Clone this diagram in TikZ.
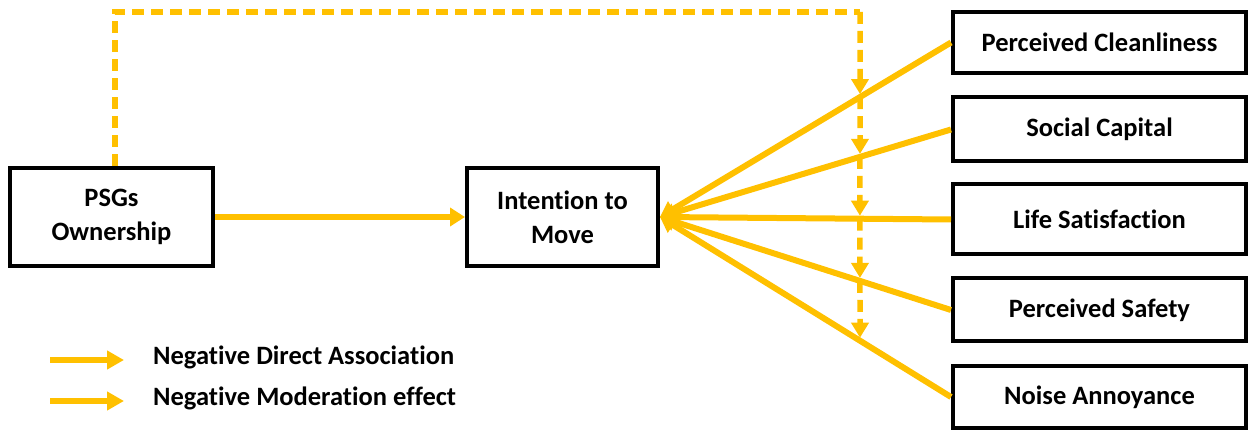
\documentclass[tikz,border=0pt]{standalone}
\usepackage{fontspec}
\setmainfont{Carlito}[Ligatures=NoCommon]
\usetikzlibrary{arrows.meta}
\definecolor{gold}{HTML}{FFC000}
\begin{document}
\begin{tikzpicture}[x=1pt,y=-1pt,
  box/.style={draw=black,line width=4pt,align=center,inner sep=0pt,
    font=\bfseries\fontsize{26.5}{34}\selectfont},
  link/.style={draw=gold,line width=6pt,-{Triangle[length=15pt,width=18pt]}},
  modline/.style={draw=gold,line width=5.5pt,dash pattern=on 12pt off 7pt},
  modtip/.style={modline,-{Triangle[length=15pt,width=17pt]}},
  legtext/.style={anchor=west,inner sep=0pt,font=\bfseries\fontsize{26.5}{30}\selectfont}]
\useasboundingbox (0,0) rectangle (1248,430);

% main constructs
\node[box,minimum width=203pt,minimum height=98pt] (psg) at (111.5,217) {PSGs\\Ownership};
\node[box,minimum width=191pt,minimum height=98pt] (im) at (562.5,217) {Intention to\\Move};

% perceived neighbourhood factors
\node[box,minimum width=293pt,minimum height=61pt] (pc) at (1099.5,42.5) {Perceived Cleanliness};
\node[box,minimum width=293pt,minimum height=64pt] (sc) at (1099.5,129.5) {Social Capital};
\node[box,minimum width=293pt,minimum height=70pt] (ls) at (1099.5,219.5) {Life Satisfaction};
\node[box,minimum width=293pt,minimum height=63pt] (ps) at (1099.5,310) {Perceived Safety};
\node[box,minimum width=293pt,minimum height=62pt] (na) at (1099.5,397) {Noise Annoyance};

% direct associations
\draw[link] (psg.east) -- (im.west);
\foreach \f in {pc,sc,ls,ps,na}
  \draw[link] (\f.west) -- (im.east);

% moderation path
\coordinate (c1) at (860,12);
\coordinate (c2) at (860,430);
\path (intersection of im.east--pc.west and c1--c2) coordinate (x1);
\path (intersection of im.east--sc.west and c1--c2) coordinate (x2);
\path (intersection of im.east--ls.west and c1--c2) coordinate (x3);
\path (intersection of im.east--ps.west and c1--c2) coordinate (x4);
\path (intersection of im.east--na.west and c1--c2) coordinate (x5);
\draw[modline] ([xshift=3.5pt]psg.north) |- (c1);
\draw[modtip,shorten >=3pt] (c1) -- (x1);
\draw[modtip,shorten >=3pt] (x1) -- (x2);
\draw[modtip,shorten >=3pt] (x2) -- (x3);
\draw[modtip,shorten >=3pt] (x3) -- (x4);
\draw[modtip,shorten >=3pt] (x4) -- (x5);

% legend
\coordinate (l1a) at (50,360);
\coordinate (l1b) at (124,360);
\coordinate (l2a) at (50,401);
\coordinate (l2b) at (124,401);
\draw[link,-{Triangle[length=17pt,width=18pt]}] (l1a) -- (l1b);
\draw[link,-{Triangle[length=17pt,width=18pt]}] (l2a) -- (l2b);
\node[legtext] (t1) at (153,357) {Negative Direct Association};
\node[legtext] (t2) at (153,398) {Negative Moderation effect};
\end{tikzpicture}
\end{document}
